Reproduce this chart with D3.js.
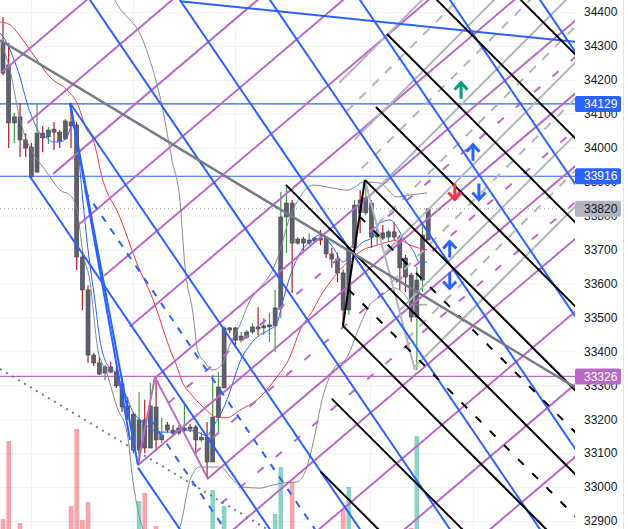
<!DOCTYPE html>
<html><head><meta charset="utf-8">
<script src="https://cdn.jsdelivr.net/npm/d3@7"></script>
<style>html,body{margin:0;padding:0;background:#fff;overflow:hidden}svg{display:block}</style>
</head><body><svg id="c" width="628" height="529"></svg>
<script>
// ---------------- DATA ----------------
const opens  = [34309,34244,34073,34091,34023,34002,33928,34043,34032,34055,34046,34026,34076,34067,33678,33581,33389,33366,33336,33354,33339,33304,33239,33215,33109,33198,33115,33236,33139,33183,33168,33159,33168,33177,33177,33139,33147,33074,33206,33292,33469,33469,33433,33442,33457,33472,33469,33472,33475,33528,33796,33837,33719,33731,33719,33725,33734,33734,33687,33672,33631,33522,33705,33846,33808,33837,33737,33749,33737,33752,33737,33675,33625,33501,33610,33728];
const highs  = [34385,34309,34102,34132,34043,34014,34132,34064,34061,34076,34052,34085,34132,34076,33684,33595,33395,33383,33360,33369,33351,33324,33265,33221,33280,33257,33307,33324,33204,33192,33183,33183,33248,33186,33183,33162,33192,33330,33339,33475,33472,33472,33457,33463,33483,33531,33498,33513,33581,33870,33884,33846,33737,33737,33749,33737,33758,33737,33705,33690,33640,33707,33846,33875,33905,33846,33772,33772,33758,33781,33743,33684,33631,33649,33781,33820];
const lows   = [34214,33999,34014,33973,33973,33905,33928,33987,34011,33993,33999,34023,33999,33640,33522,33366,33357,33330,33315,33336,33292,33221,33198,33100,33071,33100,33115,33109,33130,33159,33150,33153,33162,33162,33094,33133,33027,33074,33159,33292,33454,33410,33425,33436,33451,33448,33448,33427,33398,33498,33690,33572,33713,33693,33713,33719,33713,33675,33646,33604,33472,33507,33699,33749,33802,33705,33713,33728,33722,33728,33581,33575,33486,33345,33575,33728];
const closes = [34220,34073,34091,34023,33999,33914,34043,34029,34052,34046,34020,34079,34064,33678,33581,33389,33366,33333,33354,33339,33298,33236,33209,33109,33198,33115,33239,33139,33153,33168,33159,33174,33174,33171,33139,33147,33074,33206,33295,33469,33463,33433,33445,33457,33472,33466,33475,33478,33528,33796,33837,33719,33731,33719,33728,33734,33728,33687,33672,33631,33522,33705,33831,33808,33852,33737,33743,33734,33752,33737,33646,33619,33501,33610,33743,33820];
// volume (visible bars only, arbitrary units)
const volumes = [10,88,0,6,0,0,0,0,0,0,0,0,23,100,9,27,0,0,0,0,0,0,0,0,28,36,0,3,0,0,0,0,0,0,0,0,0,39,0,23,0,0,0,0,0,0,0,0,15,62,0,47,0,0,0,0,0,0,0,0,20,42,0,0,0,0,0,0,0,0,0,0,1,93,0,0];

// indicators: [bar, price]
const bbUpper = [[18,34500],[19.75,34435],[25.0,34303],[28.2,34111],[29.8,33964],[31.2,33846],[32.1,33649],[33.5,33513],[34.4,33398],[35.6,33369],[37.0,33345],[38.6,33360],[40.0,33419],[41.8,33478],[43.6,33551],[45.7,33595],[47.4,33634],[48.9,33699],[50.3,33781],[52.4,33855],[54.7,33890],[58.2,33881],[60.7,33875],[62.1,33884],[63.5,33899],[66.5,33896],[69.5,33855],[71.8,33861],[74.8,33867]];
const bbLower = [[-0.5,34317],[1.23,34229],[3.0,34082],[5.3,33984],[7.05,33943],[8.3,33914],[10.05,33875],[11.8,33861],[13.05,33817],[14.1,33690],[15.3,33610],[16.75,33404],[18.3,33336],[20.1,33236],[21.9,33159],[22.9,33021],[24.7,32876],[27.7,32814],[31.2,32882],[33.0,33021],[34.7,33059],[38.3,33059],[40.6,33021],[42.3,33000],[45.3,32997],[47.6,33006],[49.4,33012],[51.9,33015],[53.6,33059],[54.7,33130],[56.4,33265],[58.2,33345],[60.7,33383],[63.0,33478],[64.7,33537],[66.5,33560],[69.1,33587],[70.9,33566],[72.3,33537],[74.8,33537]];
const maSlow = [[-0.5,34371],[1.23,34362],[3.53,34317],[6.0,34259],[8.3,34208],[11.3,34170],[13.05,34132],[14.8,34052],[15.9,34023],[17.6,33905],[20.6,33796],[23.6,33660],[26.5,33551],[29.5,33404],[30.7,33354],[31.7,33307],[33.0,33277],[35.3,33236],[37.7,33206],[39.5,33204],[41.8,33227],[44.8,33257],[48.3,33324],[50.6,33383],[52.4,33463],[54.7,33522],[55.9,33560],[57.7,33604],[59.4,33640],[61.2,33669],[63.5,33699],[66.0,33713],[67.7,33722],[70.0,33728],[71.8,33713],[74.8,33699]];
const maFast = [[-0.5,34338],[0.7,34309],[1.76,34267],[3.0,34208],[4.23,34132],[5.3,34082],[6.5,34043],[7.76,34029],[8.8,34017],[10.05,34017],[11.3,34032],[12.2,34067],[13.05,34023],[13.9,33875],[15.0,33699],[16.2,33551],[17.1,33433],[18.0,33374],[18.9,33351],[19.9,33336],[20.8,33301],[21.9,33262],[22.75,33227],[24.2,33198],[25.9,33174],[27.7,33162],[30.0,33162],[32.5,33168],[34.7,33159],[36.0,33150],[37.0,33177],[38.3,33212],[39.5,33257],[40.7,33315],[41.8,33369],[43.6,33419],[45.0,33445],[46.6,33460],[48.3,33483],[49.4,33551],[50.6,33619],[52.4,33690],[54.1,33722],[55.9,33743],[58.2,33707],[60.0,33663],[61.2,33684],[63.5,33722],[65.3,33737],[66.5,33778],[68.3,33787],[69.5,33766],[70.5,33737],[72.3,33699],[73.5,33663],[74.8,33663]];

// price axis
const priceTicks = [32900,33000,33100,33200,33300,33400,33500,33600,33700,33800,33900,34000,34100,34200,34300,34400];
const gridBars = [4.94,22.9,40.9,64.7,82.9];
const levels = [
  {price:34129, color:'#2962ff', label:'34129', text:'#fff', dash:null},
  {price:33916, color:'#2962ff', label:'33916', text:'#fff', dash:null},
  {price:33326, color:'#ba68c8', label:'33326', text:'#fff', dash:null},
  {price:33820, color:'#b2b5be', label:'33820', text:'#131722', dash:'1,3', line:'#9598a1'}
];

// drawing families: price(bar) = p0 + slope*bar + step*k
const purpleFam = {p0:34226, slope:14.2, step:-214.2};
const purpleLeftEdge = [[-0.53,34235],[26.8,33324]];
const purpleRightEdge = [[26.8,33324],[35.98,33030]];
const purpleSolid = [[0,'L'],[1,'L'],[2,'L'],[3,'L'],[4,'L'],[5,'L'],[6,'L'],[7,23.8],[8,35.98],[9,null],[10,null],[11,null],[12,null],[13,null]];
const purpleDashed = [[6.5,'R'],[7.5,'R'],[8.5,'R']];
const purpleTriangle = [[[26.8,33324],[23.8,33065]],[[26.8,33324],[35.98,33030]]];

const blueFam = {p0:34422, slope:-24.56, step:390};
const blueSolid = [[-2,23.8],[-1,4.76],[0,11.82],[1,null],[2,null],[3,null],[4,null],[5,null],[6,null]];
const blueDashed = [[-1.5,25.9],[-0.5,14.46]];
const blueSegs = [[[11.82,34132],[23.8,33065]],[[11.82,34132],[22.4,33139]],[[31.2,34432],[100.9,34312]]];

const blackFam = {p0:35467, slope:-16.71, step:-247.5};
const blackUpEdge = [[59.96,33475],[63.84,33905]];
const blackDownEdge = [[59.96,33475],[55.9,33036]];
const blackSolid = [[-2,'U'],[-1,'U'],[0,'U'],[1,'U'],[2,'U'],[3,49.9],[4,'D'],[5,'D'],[6,'D'],[7,'D']];
const blackDashed = [[2.5,'U'],[3.5,'U']];
const blackSegs = [[[59.96,33475],[63.84,33905]]];

const grayFam = {p0:32140, slope:16.71, step:106};
const grayEdge = [[72.66,33345],[63.84,33905]];
const graySolid = [0,2,4,6,8,10];
const grayDashed = [1,3,5,7,9];
const graySegs = [[[63.84,33905],[72.66,33345]]];

const trendGray = [[-0.53,34317],[100.9,33294]];
const trendDotted = [[-0.53,33348],[47.1,32871]];

// arrows: bar, price(center), direction, colour
const arrows = [
  [80.8,34168,'up','#089981'],
  [82.9,33985,'up','#2962ff'],
  [79.7,33871,'down','#f23645'],
  [83.95,33871,'down','#2962ff'],
  [78.8,33700,'up','#2962ff'],
  [78.8,33609,'down','#2962ff']
];

// ---------------- CHART ----------------
const W=628, H=529, PW=575;
const svg = d3.select('#c');
const x = d3.scaleLinear().domain([-0.53,100.9]).range([0,PW]);
const y = d3.scaleLinear().domain([32900,34400]).range([521,12]);
const yv = d3.scaleLinear().domain([0,100]).range([529,429]);
const BAR_MAX = 100.9;

svg.append('rect').attr('width',W).attr('height',H).attr('fill','#fff');
svg.append('defs').append('clipPath').attr('id','clip').append('rect').attr('width',PW).attr('height',H);
const g = svg.append('g').attr('clip-path','url(#clip)');

// grid
g.selectAll('.hg').data(priceTicks).join('line')
  .attr('x1',0).attr('x2',PW).attr('y1',d=>y(d)+0.5).attr('y2',d=>y(d)+0.5)
  .attr('stroke','#f0f3fa').attr('stroke-width',1);
g.selectAll('.vg').data(gridBars).join('line')
  .attr('x1',d=>Math.round(x(d))+0.5).attr('x2',d=>Math.round(x(d))+0.5).attr('y1',0).attr('y2',H)
  .attr('stroke','#f0f3fa').attr('stroke-width',1);

// volume
const idx = d3.range(opens.length);
g.selectAll('.vol').data(idx.filter(i=>volumes[i]>0)).join('rect')
  .attr('x',i=>x(i)-2.3).attr('width',4.6)
  .attr('y',i=>yv(volumes[i])).attr('height',i=>yv(0)-yv(volumes[i]))
  .attr('fill',i=>closes[i]>=opens[i]?'rgba(8,153,129,0.45)':'rgba(242,54,69,0.45)');

// levels (lines)
levels.forEach(l=>{
  g.append('line').attr('x1',0).attr('x2',PW).attr('y1',y(l.price)).attr('y2',y(l.price))
   .attr('stroke',l.line||l.color).attr('stroke-width',l.dash?1:1.2)
   .attr('stroke-dasharray',l.dash);
});

// candles
const up = i=>closes[i]>=opens[i];
g.selectAll('.wick').data(idx).join('line')
  .attr('x1',i=>x(i)).attr('x2',i=>x(i)).attr('y1',i=>y(highs[i])).attr('y2',i=>y(lows[i]))
  .attr('stroke',i=>up(i)?'#43a047':'#b71c1c').attr('stroke-width',1.2);
g.selectAll('.body').data(idx).join('rect')
  .attr('x',i=>x(i)-2).attr('width',4)
  .attr('y',i=>y(Math.max(opens[i],closes[i])))
  .attr('height',i=>Math.max(1.5,Math.abs(y(opens[i])-y(closes[i]))))
  .attr('fill','#5d606b').attr('stroke','#434651').attr('stroke-width',0.6);

// indicators
const ln = d3.line().x(d=>x(d[0])).y(d=>y(d[1])).curve(d3.curveMonotoneX);
const addPath=(pts,col,w)=>g.append('path').attr('d',ln(pts)).attr('fill','none').attr('stroke',col).attr('stroke-width',w);
addPath(bbUpper,'#868993',1);
addPath(bbLower,'#868993',1);
addPath(maSlow,'#f23645',1);
addPath(maFast,'#2962ff',1);

// families
function edgeBar(fam,k,edge){
  const [a,b]=edge; const m=(b[1]-a[1])/(b[0]-a[0]);
  return (a[1]-m*a[0]-fam.p0-fam.step*k)/(fam.slope-m);
}
function famLine(fam,k,start,edges,style){
  let b0;
  if(start===null) b0=-3;
  else if(typeof start==='number') b0=start;
  else b0=edgeBar(fam,k,edges[start]);
  const p=b=>fam.p0+fam.slope*b+fam.step*k;
  g.append('line').attr('x1',x(b0)).attr('y1',y(p(b0))).attr('x2',x(BAR_MAX+3)).attr('y2',y(p(BAR_MAX+3)))
   .attr('stroke',style.c).attr('stroke-width',style.w).attr('stroke-dasharray',style.d||null)
   .attr('stroke-linecap','butt');
}
function seg(s,style){
  g.append('line').attr('x1',x(s[0][0])).attr('y1',y(s[0][1])).attr('x2',x(s[1][0])).attr('y2',y(s[1][1]))
   .attr('stroke',style.c).attr('stroke-width',style.w).attr('stroke-dasharray',style.d||null);
}
const PUR={c:'#ba68c8',w:2}, PURD={c:'#ba68c8',w:2,d:'8,16'};
purpleSolid.forEach(([k,s])=>famLine(purpleFam,k,s,{L:purpleLeftEdge,R:purpleRightEdge},PUR));
purpleDashed.forEach(([k,s])=>famLine(purpleFam,k,s,{L:purpleLeftEdge,R:purpleRightEdge},PURD));
purpleTriangle.forEach(s=>seg(s,PUR));

const GRY={c:'#b2b5be',w:2}, GRYD={c:'#b2b5be',w:2,d:'9,9'};
graySolid.forEach(k=>famLine(grayFam,k,'E',{E:grayEdge},GRY));
grayDashed.forEach(k=>famLine(grayFam,k,'E',{E:grayEdge},GRYD));
graySegs.forEach(s=>seg(s,GRY));

const BLU={c:'#2962ff',w:2}, BLUD={c:'#2962ff',w:2,d:'7,8'};
blueSolid.forEach(([k,s])=>famLine(blueFam,k,s,{},BLU));
blueDashed.forEach(([k,s])=>famLine(blueFam,k,s,{},BLUD));
blueSegs.forEach(s=>seg(s,BLU));

const BLK={c:'#000',w:2}, BLKD={c:'#000',w:2,d:'8,12'};
blackSolid.forEach(([k,s])=>famLine(blackFam,k,s,{U:blackUpEdge,D:blackDownEdge},BLK));
blackDashed.forEach(([k,s])=>famLine(blackFam,k,s,{U:blackUpEdge,D:blackDownEdge},BLKD));
blackSegs.forEach(s=>seg(s,BLK));

seg(trendGray,{c:'#787b86',w:2.5});
seg(trendDotted,{c:'#787b86',w:2,d:'2,5'});

// arrows
arrows.forEach(([b,p,dir,col])=>{
  const cx=x(b), cy=y(p), h=8, s=dir==='up'?-1:1;
  const a=g.append('g').attr('stroke',col).attr('stroke-width',3).attr('fill','none').attr('stroke-linecap','butt');
  a.append('line').attr('x1',cx).attr('x2',cx).attr('y1',cy-h*s).attr('y2',cy+h*s);
  a.append('path').attr('d',`M${cx-6.5},${cy+s*h-s*7}L${cx},${cy+s*h}L${cx+6.5},${cy+s*h-s*7}`);
});

// axis
const ax = svg.append('g').attr('transform',`translate(${PW},0)`)
  .call(d3.axisRight(y).tickValues(priceTicks).tickSize(0).tickPadding(9).tickFormat(d3.format('d')));
ax.select('.domain').remove();
ax.selectAll('text').attr('fill','#131722').style('font-family','"Liberation Sans",Arial,sans-serif').style('font-size','12px');

// badges
levels.forEach(l=>{
  const bg=svg.append('g').attr('transform',`translate(${PW},${y(l.price)})`);
  bg.append('rect').attr('x',0).attr('y',-8).attr('width',46).attr('height',16).attr('rx',2).attr('fill',l.color);
  bg.append('text').attr('x',9).attr('y',0).attr('dy','0.35em').attr('fill',l.text)
    .style('font-family','"Liberation Sans",Arial,sans-serif').style('font-size','12px').text(l.label);
});
svg.append('line').attr('x1',623.5).attr('x2',623.5).attr('y1',0).attr('y2',H).attr('stroke','#e0e3eb').attr('stroke-width',1);
</script></body></html>
